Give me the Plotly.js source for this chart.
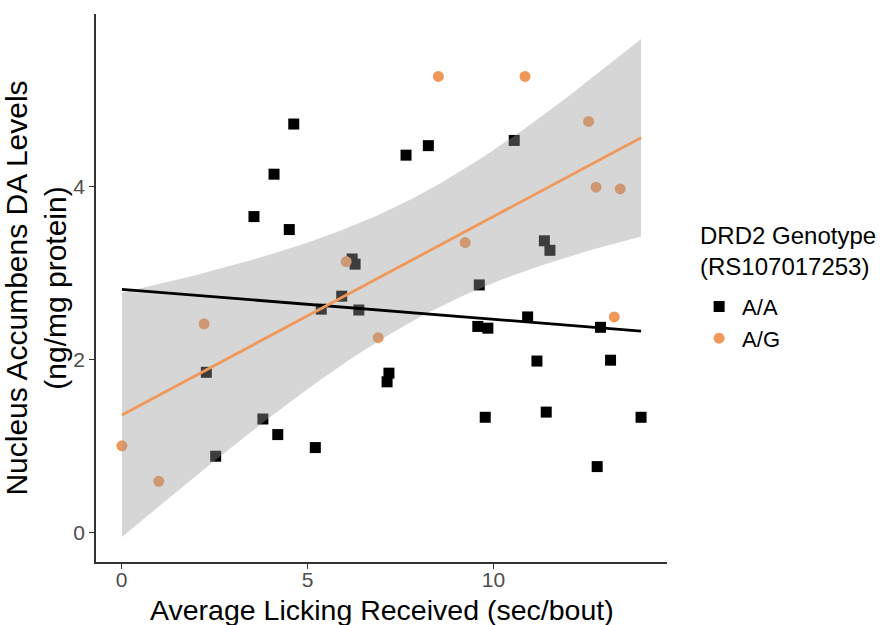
<!DOCTYPE html>
<html><head><meta charset="utf-8">
<script src="https://cdn.plot.ly/plotly-3.0.1.min.js"></script>
<style>html,body{margin:0;padding:0;background:#fff}#chart{width:894px;height:625px}</style>
</head><body><div id="chart"></div>
<script>
// ---- data ----
const aaLick = [3.56, 4.10, 4.63, 4.51, 2.28, 3.80, 4.20, 2.53, 8.25, 7.65, 10.56, 6.20, 6.28, 11.37, 11.52, 9.62,
                5.92, 5.37, 6.38, 10.92, 9.58, 9.85, 12.88, 11.17, 13.15, 7.19, 7.14, 9.78, 11.42, 13.97, 12.79, 5.21];
const aaDA   = [3.65, 4.14, 4.72, 3.50, 1.85, 1.31, 1.13, 0.88, 4.47, 4.36, 4.53, 3.16, 3.10, 3.37, 3.26, 2.86,
                2.73, 2.58, 2.57, 2.49, 2.38, 2.36, 2.37, 1.98, 1.99, 1.84, 1.74, 1.33, 1.39, 1.33, 0.76, 0.98];
const agLick = [0.01, 1.00, 2.22, 8.52, 10.85, 12.56, 12.76, 13.41, 9.24, 6.04, 13.25, 6.90];
const agDA   = [1.00, 0.59, 2.41, 5.27, 5.27, 4.75, 3.99, 3.97, 3.35, 3.13, 2.49, 2.25];
const groupNames = ["A/A", "A/G"];
const xTicks = [0, 5, 10];
const yTicks = [0, 2, 4];
const xTitle = "Average Licking Received (sec/bout)";
const yTitle = "Nucleus Accumbens DA Levels<br>(ng/mg protein)";
const legendTitle = "DRD2 Genotype<br>(RS107017253)";
const tCrit975 = {10: 2.228, 30: 2.042}; // Student t 97.5% quantiles by df

// ---- linear fit (lm) with 95% confidence band ----
function lmFit(xs, ys) {
  const n = xs.length;
  const mx = xs.reduce((a, b) => a + b, 0) / n;
  const my = ys.reduce((a, b) => a + b, 0) / n;
  let sxx = 0, sxy = 0;
  for (let i = 0; i < n; i++) { sxx += (xs[i] - mx) ** 2; sxy += (xs[i] - mx) * (ys[i] - my); }
  const b = sxy / sxx, a = my - b * mx;
  let sse = 0;
  for (let i = 0; i < n; i++) sse += (ys[i] - (a + b * xs[i])) ** 2;
  const s = Math.sqrt(sse / (n - 2));
  return {a, b, mx, sxx, s, n};
}
const allX = aaLick.concat(agLick);
const xMin = Math.min(...allX), xMax = Math.max(...allX);
const gridN = 80;
const grid = [];
for (let i = 0; i <= gridN; i++) grid.push(xMin + (xMax - xMin) * i / gridN);

const fitAA = lmFit(aaLick, aaDA);
const fitAG = lmFit(agLick, agDA);
const predict = (f, x) => f.a + f.b * x;
const tAG = tCrit975[fitAG.n - 2];
const half = x => tAG * fitAG.s * Math.sqrt(1 / fitAG.n + (x - fitAG.mx) ** 2 / fitAG.sxx);
const upper = grid.map(x => predict(fitAG, x) + half(x));
const lower = grid.map(x => predict(fitAG, x) - half(x));

// ggplot-like 5% expansion
const allY = aaDA.concat(agDA, upper, lower);
const yMin = Math.min(...allY), yMax = Math.max(...allY);
const xr = [xMin - 0.05 * (xMax - xMin), xMax + 0.05 * (xMax - xMin)];
const yr = [yMin - 0.05 * (yMax - yMin), yMax + 0.05 * (yMax - yMin)];

const orange = "#F0985A";
const traces = [
  {x: aaLick, y: aaDA, type: "scatter", mode: "markers", name: groupNames[0],
   marker: {symbol: "square", size: 11, color: "#000000", line: {width: 0}}},
  {x: agLick, y: agDA, type: "scatter", mode: "markers", name: groupNames[1],
   marker: {symbol: "circle", size: 11, color: orange, line: {width: 0}}},
  {x: grid.concat(grid.slice().reverse()), y: upper.concat(lower.slice().reverse()),
   type: "scatter", mode: "lines", fill: "toself", fillcolor: "rgba(153,153,153,0.4)",
   line: {width: 0}, showlegend: false, hoverinfo: "skip"},
  {x: grid, y: grid.map(x => predict(fitAA, x)), type: "scatter", mode: "lines",
   line: {color: "#000000", width: 2.8}, showlegend: false, hoverinfo: "skip"},
  {x: grid, y: grid.map(x => predict(fitAG, x)), type: "scatter", mode: "lines",
   line: {color: orange, width: 2.8}, showlegend: false, hoverinfo: "skip"}
];

const font = "Liberation Sans, Arial, sans-serif";
const layout = {
  width: 894, height: 625,
  margin: {l: 96, r: 227, t: 14, b: 63},
  paper_bgcolor: "#ffffff", plot_bgcolor: "#ffffff",
  font: {family: font, color: "#000000"},
  showlegend: true,
  xaxis: {
    range: xr, tickvals: xTicks, ticktext: xTicks.map(String),
    showgrid: false, zeroline: false, showline: true, linecolor: "#333333", linewidth: 1.8,
    ticks: "outside", ticklen: 5, tickwidth: 1.6, tickcolor: "#333333",
    tickfont: {size: 21, color: "#4d4d4d", family: font}, ticklabelstandoff: -7,
    automargin: false
  },
  yaxis: {
    range: yr, tickvals: yTicks, ticktext: yTicks.map(String),
    showgrid: false, zeroline: false, showline: true, linecolor: "#333333", linewidth: 1.8,
    ticks: "outside", ticklen: 5, tickwidth: 1.6, tickcolor: "#333333",
    tickfont: {size: 21, color: "#4d4d4d", family: font},
    title: {text: yTitle, font: {size: 30, color: "#000000", family: font}, standoff: 6},
    automargin: false
  },
  annotations: [{
    text: xTitle, xref: "paper", yref: "paper", x: 0.5, y: -0.087,
    xanchor: "center", yanchor: "middle", showarrow: false,
    font: {size: 28.5, color: "#000000", family: font}
  }, {
    text: legendTitle, xref: "paper", yref: "paper", x: 1.054, y: 0.568,
    xanchor: "left", yanchor: "middle", align: "left", showarrow: false,
    font: {size: 24, color: "#000000", family: font}
  }],
  legend: {
    x: 1.051, xanchor: "left", y: 0.504, yanchor: "top",
    font: {size: 22, color: "#000000", family: font},
    bgcolor: "rgba(0,0,0,0)", borderwidth: 0, tracegroupgap: 0, itemwidth: 36
  }
};

Plotly.newPlot("chart", traces, layout, {displayModeBar: false, staticPlot: true});
</script>
</body></html>
